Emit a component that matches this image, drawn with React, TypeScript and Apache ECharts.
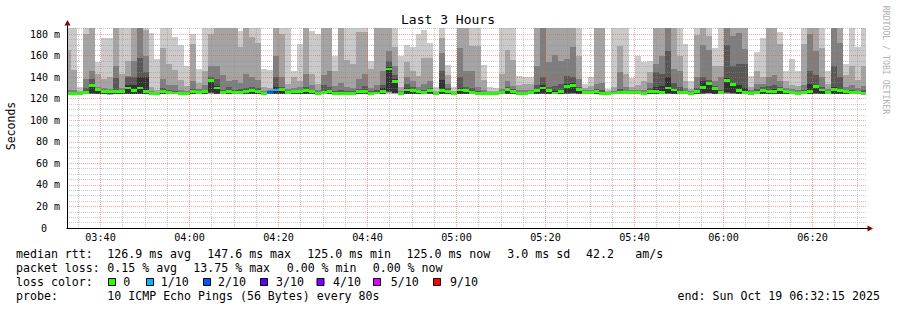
import React, { useEffect, useRef } from "react";
import * as echarts from "echarts";

// ---- time layout (minutes after midnight) ----
const X_MIN = 212.472; // ~03:32:28 at left edge of plot
const X_MAX = 392.135; // ~06:32:08 at right edge of plot
const COL_START = 212.13; // first 80 s column start
const COL_STEP = 80 / 60;
const Y_MAX = 185.6;

// ---- smoke data per 80 s column (ms) ----
// lowest ping
const LOW = [
  123.8,124.0,124.1,123.9,124.0,124.2,124.0,123.8,124.0,124.1,
  124.0,124.2,124.1,124.0,123.8,123.9,124.0,124.1,123.9,123.8,
  123.9,124.0,124.1,124.0,124.3,124.1,124.0,124.2,124.0,123.9,
  124.1,124.2,124.0,123.8,123.9,124.2,124.3,124.0,124.1,124.2,
  124.1,124.0,123.8,124.0,124.1,123.9,123.8,123.9,123.9,124.0,
  124.1,123.9,123.9,124.0,124.4,124.2,123.8,124.1,124.2,124.0,
  124.0,124.1,123.8,124.1,124.2,123.8,124.1,124.1,124.0,123.9,
  123.8,123.8,123.9,124.0,124.2,124.1,123.9,123.9,124.0,124.1,
  124.2,124.1,123.9,124.0,124.2,124.3,124.1,124.0,123.9,124.1,
  123.9,123.8,123.9,124.0,124.0,123.9,124.0,123.8,124.1,124.0,
  124.0,124.2,124.1,124.0,123.9,123.8,124.0,124.2,124.3,124.1,
  123.9,124.3,124.2,124.1,123.9,123.8,123.9,124.1,124.0,124.1,
  124.1,124.0,123.9,123.8,123.9,124.0,124.2,124.1,124.0,124.1,
  124.0,124.0,123.9,123.9,123.8,
];
// band tops, outermost (lightest) to innermost (darkest)
const SMOKE_L = [
  190,190,131,190,190,154,176,176,190,190,
  190,190,190,190,181,157,190,190,177,170,
  150,180,148,190,190,190,190,190,190,183,
  190,190,190,148,147,190,190,190,146,171,
  190,183,180,190,190,160,190,190,186,190,
  190,155,190,190,190,190,160,170,168,180,
  184,172,131,190,151,131,190,190,190,190,
  151,131,130,190,190,186,141,140,140,190,
  190,190,190,190,190,190,186,134,140,190,
  190,129,190,190,190,139,160,154,155,190,
  190,190,190,190,171,136,190,190,190,167,
  190,190,190,190,190,141,163,176,190,190,
  182,146,157,146,190,190,190,186,146,190,
  190,152,190,168,190,
];
const SMOKE_A = [
  165,147,127,180,188,143,138,140,186,143,
  155,188,188,184,131,128,167,152,147,137,
  132,171,135,146,180,186,188,188,186,168,
  186,177,172,131,130,186,180,134,140,136,
  188,143,134,188,188,146,186,156,152,182,
  182,148,186,186,186,168,131,154,146,141,
  158,158,127,176,142,127,186,186,169,169,
  137,127,127,143,165,156,133,134,134,188,
  188,188,188,188,188,186,160,130,132,186,
  186,127,131,169,143,131,133,136,145,186,
  186,188,186,160,136,129,179,186,178,150,
  150,188,188,186,186,131,146,140,186,186,
  171,136,133,132,171,188,186,167,134,188,
  186,142,150,137,150,
];
const SMOKE_B = [
  128,128,126,138,146,131,130,129,150,130,
  141,155,186,160,127,126,138,133,133,128,
  127,136,129,133,150,150,142,136,137,135,
  143,140,137,127,128,160,140,129,130,131,
  143,133,128,142,146,132,135,131,130,138,
  143,130,133,146,164,150,127,140,136,131,
  134,136,126,162,134,126,167,146,146,131,
  128,126,126,129,136,132,128,128,128,150,
  186,154,161,155,157,168,138,128,128,134,
  135,126,127,145,131,128,128,128,135,152,
  160,186,148,146,130,127,140,170,165,136,
  140,186,178,181,166,128,134,134,140,142,
  136,130,129,128,133,180,164,140,129,186,
  172,131,133,130,132,
];
const SMOKE_C = [
  126,126,125.5,130,138,129.5,128,127,139,128,
  140,140,158,145,126,125.5,130,128,127,126,
  126,129,127,128,140,138,128,131,128,129,
  130,131,130,126,127,140,131,127,128,128,
  131,128,126.5,133,131,127,128,127,127,129,
  132,127,128,133,155,142,126,134,131,128,
  128,130,125.5,146,130,125.5,140,131,130,127,
  126,125.5,125.5,127,131,129,126,126,126.5,133,
  140,131,132,134,141,140,131,127,126,129,
  128,125.5,126,129,127,126.5,126.5,126,130,145,
  143,164,135,131,127,126,130,140,137,132,
  128,170,150,152,152,126.5,129,131,132,133,
  131,128,127,126,128,146,142,131,127,150,
  140,128,128,127,128,
];
const SMOKE_D = [
  125.5,125.5,125.3,127,134,129,127,127,128,127,
  133,133,140,140,125.5,125.3,128,127,126,125.5,
  125.5,127,126,127,138.5,132,127,128,127,127,
  128,129,128,125.5,126.5,131,129.5,126,127,127.5,
  128.5,127,126,127,128,126,126,126,126,127.5,
  128,126,126,130,149,138,125.5,130,129,127,
  127,128,125.2,137,128,125.3,130,129,127,126,
  125.5,125.2,125.2,126,129.5,127.5,125.5,125.5,126,128.5,
  133,128.5,127,128,134,135,129.5,126.5,125.5,127.5,
  126,125.3,125.5,127,126,126,126,125.5,128,131,
  132,140,129,127,126,125.5,128,136,135.5,131,
  127,139,135,133,130,126,127,129,128,129,
  129,127,126,125.5,126.5,134,133,129,126.5,131,
  129,127,127,126,126.5,
];
const MEDIAN = [
  125,125,125,125.5,132,128.5,126.5,126.5,126.5,126.5,
  130,127.5,130,127,125,125,127,126,125.3,125,
  125,126.5,125.5,126.5,137,130,126,127,126,126,
  127,127.5,126.5,125,126,128,128.5,125.5,126.5,127,
  127.5,126.5,125,126,127,125,125,125,125,126.5,
  127,125,125.2,127,147.6,136,125,128,127.5,126.5,
  126,127.5,125,127.5,127,125,128,127.5,126,125,
  125,125,125,126,128.5,127,125,125,125.5,127.5,
  130,127.5,125.2,126.5,131,132.5,128.5,126,125.5,127,
  125,125,125.3,125.5,125.5,125.5,125.5,125,127,126.5,
  126,130,128,126,125.5,125,127,130.5,134,129.5,
  125.5,137,133,127.5,125.5,125,125.5,127.5,127,127,
  128.5,126.5,125.5,125,125.5,127,131,128,126,128.5,
  127.5,126.5,126,125.5,125.3,
];
// lost pings out of 10
const LOSS = [
  0,0,0,0,0,0,0,0,0,0,
  0,0,0,0,0,0,0,0,0,0,
  0,0,0,0,0,0,0,0,0,0,
  0,0,0,0,2,1,0,0,0,0,
  0,0,0,0,0,0,0,0,0,0,
  0,0,0,0,0,0,0,0,0,0,
  0,0,0,0,0,0,0,0,0,0,
  0,0,0,0,0,0,0,0,0,0,
  0,0,0,0,0,0,0,0,0,0,
  0,0,0,0,0,0,0,0,0,0,
  0,0,0,0,0,0,0,0,0,0,
  0,0,0,0,0,0,0,0,0,0,
  0,0,0,0,0,0,0,0,0,0,
  0,0,0,0,0,
];

const LOSS_KEYS = ["0", "1/10", "2/10", "3/10", "4/10", "5/10", "9/10"];
const LOSS_COUNTS = [0, 1, 2, 3, 4, 5, 9];
const LOSS_COLORS = ["#26ff00", "#00b8ff", "#0059ff", "#5e00ff", "#7e00ff", "#dd00ff", "#ff0000"];
const SMOKE_COLORS = ["#cacaca", "#a4a4a4", "#7e7e7e", "#585858", "#323232"];

// ---- legend texts ----
const RTT_LABEL = "median rtt:";
const RTT_STATS = ["126.9 ms avg", "147.6 ms max", "125.0 ms min", "125.0 ms now", "3.0 ms sd", "42.2", "am/s"];
const LOSS_LABEL = "packet loss:";
const LOSS_STATS = ["0.15 % avg", "13.75 % max", "0.00 % min", "0.00 % now"];
const COLOR_LABEL = "loss color:";
const PROBE_LABEL = "probe:";
const PROBE_TEXT = "10 ICMP Echo Pings (56 Bytes) every 80s";
const END_TEXT = "end: Sun Oct 19 06:32:15 2025";
const TITLE = "Last 3 Hours";
const Y_NAME = "Seconds";
const WATERMARK = "RRDTOOL / TOBI OETIKER";

// layout positions
const RTT_X = [107.3, 207.3, 307.3, 406.5, 507.3, 586, 635.3];
const LOSS_X = [107.3, 193.3, 286.7, 372.7];
const BOX_X = [108, 146, 203, 260, 316.5, 373, 433];
const BOX_TEXT_X = [123.3, 160.7, 218, 276, 333, 390.7, 450];
const LINE_Y = [254.3, 268.3, 282, 296.3];

const MONO = '"DejaVu Sans Mono", monospace';

function lossColor(n: number) {
  const i = LOSS_COUNTS.indexOf(n);
  return LOSS_COLORS[i >= 0 ? i : LOSS_COLORS.length - 1];
}

function fmtTime(v: number) {
  const h = Math.floor(v / 60);
  const m = Math.round(v - h * 60);
  return String(h).padStart(2, "0") + ":" + String(m).padStart(2, "0");
}

function txt(x: number, y: number, text: string, extra: any = {}) {
  return {
    type: "text",
    x,
    y,
    silent: true,
    z: 10,
    ...extra.el,
    style: {
      text,
      fill: "#000",
      fontFamily: MONO,
      fontSize: 11.6,
      align: "left",
      textAlign: "left",
      verticalAlign: "middle",
      textVerticalAlign: "middle",
      ...(extra.style || {}),
    },
  };
}

const BAND_FRAC = [0, 0.03, 0.06, 0.09, 0.12];

function buildOption() {
  const data = MEDIAN.map((m, i) => [
    COL_START + i * COL_STEP,
    COL_START + (i + 1) * COL_STEP,
    LOW[i],
    SMOKE_L[i],
    SMOKE_A[i],
    SMOKE_B[i],
    SMOKE_C[i],
    SMOKE_D[i],
    m,
    LOSS[i],
  ]);

  const renderItem = (params: any, api: any) => {
    const t0 = api.value(0);
    const t1 = api.value(1);
    const low = api.value(2);
    const tops = [api.value(3), api.value(4), api.value(5), api.value(6), api.value(7)];
    const med = api.value(8);
    const loss = api.value(9);
    const cs = params.coordSys;
    const clip = { x: cs.x, y: cs.y, width: cs.width, height: cs.height };
    const mk = (v0: number, v1: number, fill: string) => {
      const a = api.coord([t0, v1]);
      const b = api.coord([t1, v0]);
      const x0 = Math.round(a[0]);
      const x1 = Math.round(b[0]);
      const y0 = Math.round(a[1]);
      const y1 = Math.round(b[1]);
      const r = echarts.graphic.clipRectByRect(
        { x: x0, y: y0, width: x1 - x0, height: Math.max(1, y1 - y0) },
        clip
      );
      if (!r || r.width <= 0 || r.height <= 0) return null;
      return { type: "rect", shape: r, style: { fill }, silent: true };
    };
    const children: any[] = [];
    for (let i = 0; i < 5; i++) {
      const lo = low + (med - low) * BAND_FRAC[i];
      const el = mk(lo, tops[i], SMOKE_COLORS[i]);
      if (el) children.push(el);
    }
    const g = mk(med - 1.3, med + 1.3, lossColor(loss));
    if (g) children.push(g);
    return { type: "group", children };
  };

  const gridMajor = { color: "rgba(255,70,70,0.5)", type: [1, 1], width: 1 };
  const gridMinor = { color: "rgba(140,140,140,0.45)", type: [1, 1], width: 1 };

  const graphics: any[] = [];
  graphics.push(
    txt(448, 19, TITLE, { style: { fontSize: 13, align: "center", textAlign: "center" } })
  );
  graphics.push(
    txt(11, 126, Y_NAME, {
      el: { rotation: Math.PI / 2 },
      style: { fontSize: 11.5, align: "center", textAlign: "center" },
    })
  );
  graphics.push(
    txt(886, 60, WATERMARK, {
      el: { rotation: -Math.PI / 2 },
      style: { fontSize: 8.2, fill: "#b0b0b0", align: "center", textAlign: "center" },
    })
  );
  // arrows at axis ends
  graphics.push({
    type: "polygon",
    silent: true,
    z: 10,
    shape: { points: [[64.5, 25.5], [70.5, 25.5], [67.5, 20]] },
    style: { fill: "#800000" },
  });
  graphics.push({
    type: "polygon",
    silent: true,
    z: 10,
    shape: { points: [[867.5, 225.5], [867.5, 231.5], [873, 228.5]] },
    style: { fill: "#800000" },
  });
  graphics.push({
    type: "line",
    silent: true,
    z: 10,
    shape: { x1: 67.5, y1: 25.5, x2: 67.5, y2: 28.5 },
    style: { stroke: "#000", lineWidth: 1 },
  });
  graphics.push({
    type: "line",
    silent: true,
    z: 10,
    shape: { x1: 866, y1: 228.5, x2: 868, y2: 228.5 },
    style: { stroke: "#000", lineWidth: 1 },
  });

  // legend line 1
  graphics.push(txt(16, LINE_Y[0], RTT_LABEL));
  RTT_STATS.forEach((s, i) => graphics.push(txt(RTT_X[i], LINE_Y[0], s)));
  // line 2
  graphics.push(txt(16, LINE_Y[1], LOSS_LABEL));
  LOSS_STATS.forEach((s, i) => graphics.push(txt(LOSS_X[i], LINE_Y[1], s)));
  // line 3
  graphics.push(txt(16, LINE_Y[2], COLOR_LABEL));
  LOSS_KEYS.forEach((k, i) => {
    graphics.push({
      type: "rect",
      silent: true,
      z: 10,
      shape: { x: BOX_X[i] + 0.5, y: LINE_Y[2] - 3.5, width: 7, height: 7 },
      style: { fill: LOSS_COLORS[i], stroke: "#000", lineWidth: 1 },
    });
    graphics.push(txt(BOX_TEXT_X[i], LINE_Y[2], k));
  });
  // line 4
  graphics.push(txt(16, LINE_Y[3], PROBE_LABEL));
  graphics.push(txt(107.3, LINE_Y[3], PROBE_TEXT));
  graphics.push(
    txt(880, LINE_Y[3], END_TEXT, { style: { align: "right", textAlign: "right" } })
  );

  return {
    animation: false,
    backgroundColor: "#ffffff",
    grid: {
      left: 67,
      right: 30.5,
      top: 28,
      bottom: 82,
      containLabel: false,
      outerBoundsMode: "none",
    },
    xAxis: {
      type: "value",
      min: X_MIN,
      max: X_MAX,
      splitNumber: 9,
      minInterval: 20,
      maxInterval: 20,
      z: 5,
      axisLine: { show: true, onZero: false, lineStyle: { color: "#000", width: 1 } },
      axisTick: { show: false, interval: 0 },
      axisLabel: {
        show: true,
        interval: 0,
        margin: 4,
        fontSize: 10.2,
        fontFamily: MONO,
        color: "#000",
        showMinLabel: false,
        showMaxLabel: false,
        formatter: (v: number) => fmtTime(v),
      },
      splitLine: {
        show: true,
        interval: 0,
        showMinLine: false,
        showMaxLine: false,
        lineStyle: gridMajor,
      },
      minorTick: { show: false, splitNumber: 4 },
      minorSplitLine: { show: true, lineStyle: gridMinor },
    },
    yAxis: {
      type: "value",
      min: 0,
      max: Y_MAX,
      splitNumber: 9,
      minInterval: 20,
      maxInterval: 20,
      z: 5,
      axisLine: { show: true, onZero: false, lineStyle: { color: "#000", width: 1 } },
      axisTick: { show: false, interval: 0 },
      axisLabel: {
        show: true,
        interval: 0,
        margin: 7,
        fontSize: 10,
        fontFamily: MONO,
        color: "#000",
        showMinLabel: true,
        showMaxLabel: false,
        formatter: (v: number) => (v === 0 ? "{z|0}" : `${v} m`),
        rich: {
          z: { padding: [0, 13, 0, 0], fontSize: 10, fontFamily: MONO, color: "#000" },
        },
      },
      splitLine: {
        show: true,
        interval: 0,
        showMinLine: false,
        showMaxLine: false,
        lineStyle: gridMajor,
      },
      minorTick: { show: false, splitNumber: 4 },
      minorSplitLine: { show: true, lineStyle: gridMinor },
    },
    series: [
      {
        type: "custom",
        name: "smoke",
        clip: true,
        silent: true,
        z: 2,
        renderItem,
        encode: { x: [0, 1], y: [2, 3, 4, 5, 6, 7, 8] },
        data,
      },
    ],
    graphic: { elements: graphics },
  };
}

export default function App() {
  const ref = useRef<HTMLDivElement>(null);
  useEffect(() => {
    if (!ref.current) return;
    const chart = echarts.init(ref.current, null, { renderer: "svg" });
    chart.setOption(buildOption() as any);
    return () => chart.dispose();
  }, []);
  return (
    <div
      ref={ref}
      style={{ position: "fixed", left: 0, top: 0, width: 897, height: 310, background: "#fff" }}
    />
  );
}
